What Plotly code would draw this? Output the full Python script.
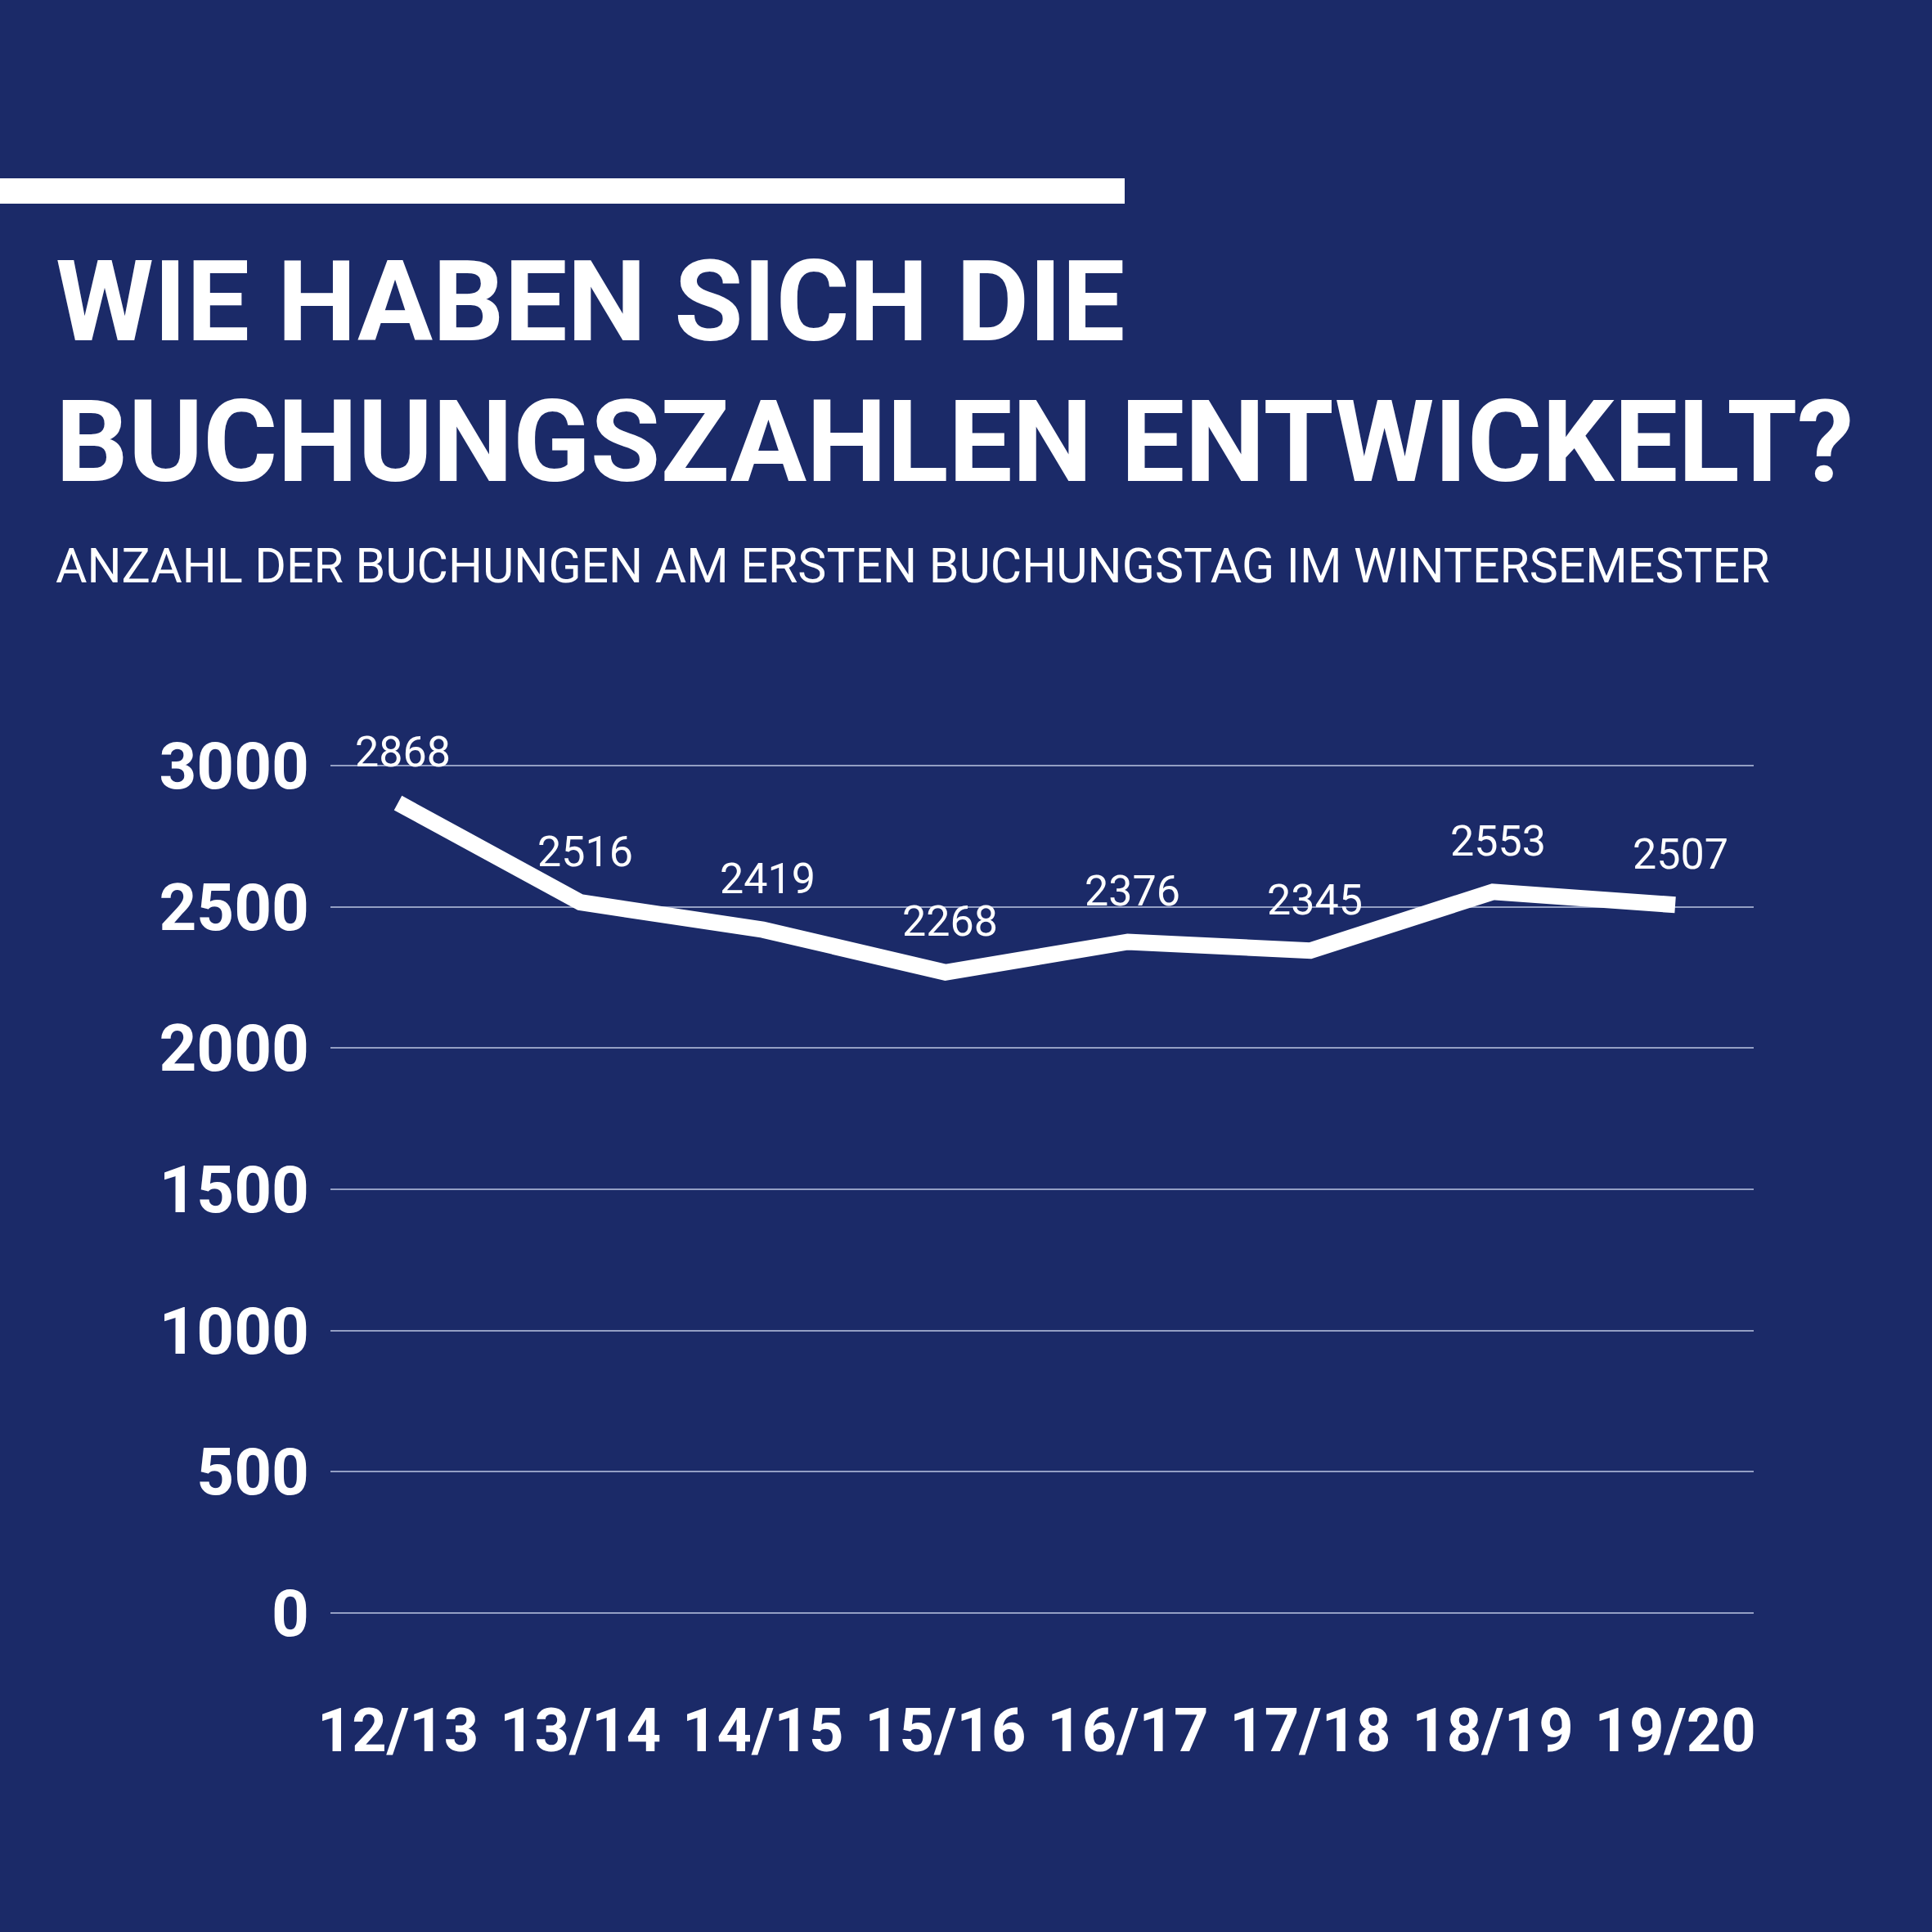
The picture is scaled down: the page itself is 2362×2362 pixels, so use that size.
import plotly.graph_objects as go

BG_COLOR = "#1b2a68"
FONT = "Roboto"
W, H = 2362, 2362

semesters = ["12/13", "13/14", "14/15", "15/16", "16/17", "17/18", "18/19", "19/20"]
bookings = [2868, 2516, 2419, 2268, 2376, 2345, 2553, 2507]
y_ticks = [0, 500, 1000, 1500, 2000, 2500, 3000]

title_line1 = "WIE HABEN SICH DIE"
title_line2 = "BUCHUNGSZAHLEN ENTWICKELT?"
subtitle = "ANZAHL DER BUCHUNGEN AM ERSTEN BUCHUNGSTAG IM WINTERSEMESTER"

# plot area in pixels
L, R, T, B = 404, 2144, 935, 1973


def px_x(px):
    return (px - L) / (R - L)


def px_y(py):
    return (B - py) / (B - T)


fig = go.Figure()
fig.add_trace(go.Scatter(x=semesters, y=bookings, mode="lines",
                         line=dict(color="white", width=20), hoverinfo="skip"))

# value labels above the points
for s, v in zip(semesters, bookings):
    fig.add_annotation(x=s, y=v, text=str(v), showarrow=False, yshift=62, xshift=6,
                       font=dict(family=FONT, size=52, color="white"))

fig.add_annotation(x=px_x(66), y=px_y(369), xref="paper", yref="paper", text=f"<b>{title_line1}</b>",
                   showarrow=False, xanchor="left", yanchor="middle",
                   font=dict(family=FONT, size=137, color="white"))
fig.add_annotation(x=px_x(66), y=px_y(540), xref="paper", yref="paper", text=f"<b>{title_line2}</b>",
                   showarrow=False, xanchor="left", yanchor="middle",
                   font=dict(family=FONT, size=139, color="white"))
fig.add_annotation(x=px_x(66), y=px_y(691), xref="paper", yref="paper", text=subtitle,
                   showarrow=False, xanchor="left", yanchor="middle",
                   font=dict(family=FONT, size=59, color="white"))

fig.add_shape(type="rect", xref="paper", yref="paper", x0=px_x(-5), x1=px_x(1375),
              y0=px_y(249), y1=px_y(218), fillcolor="white", line_width=0)

fig.update_layout(
    width=W, height=H,
    paper_bgcolor=BG_COLOR, plot_bgcolor=BG_COLOR,
    margin=dict(l=L, r=W - R, t=T, b=H - B),
    showlegend=False,
    font=dict(family=FONT, color="white"),
    xaxis=dict(range=[-0.37, 7.43], showgrid=False, zeroline=False, showline=False,
               tickvals=semesters, ticktext=[f"<b>{s}</b>" for s in semesters],
               tickfont=dict(family=FONT, size=74, color="white"), ticklabelstandoff=93),
    yaxis=dict(range=[-3, 3003], tickvals=y_ticks, ticktext=[f"<b>{v}</b>" for v in y_ticks],
               showgrid=True, gridcolor="rgba(200,210,235,0.7)", gridwidth=2,
               zeroline=False, showline=False,
               tickfont=dict(family=FONT, size=80, color="white"), ticklabelstandoff=25),
)

fig.write_html("out.html", config={"displayModeBar": False},
               post_script="document.body.style.margin='0';")
